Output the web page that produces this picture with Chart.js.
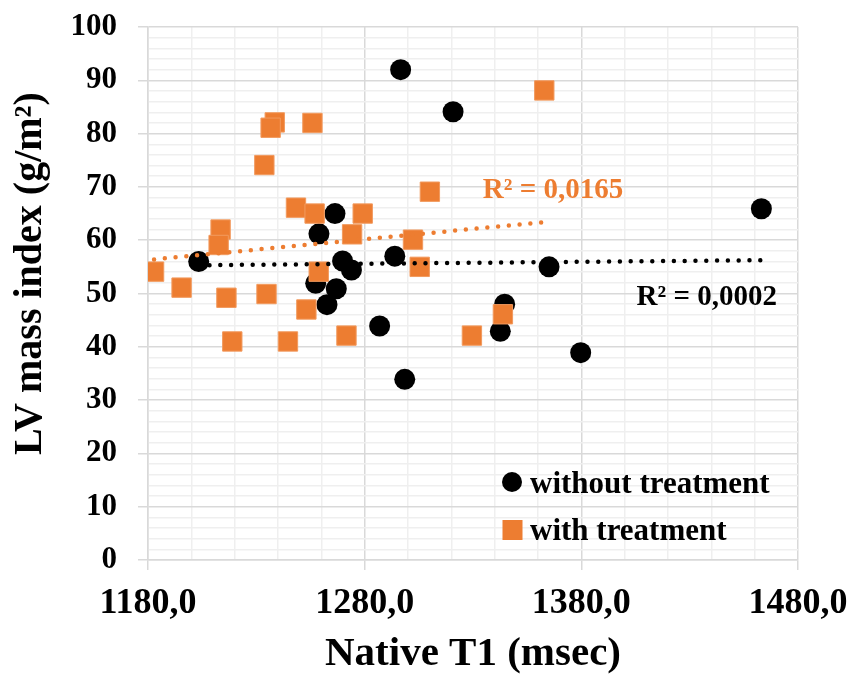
<!DOCTYPE html>
<html>
<head>
<meta charset="utf-8">
<script src="https://cdn.jsdelivr.net/npm/chart.js@4"></script>
<style>
  body { margin: 0; background: #fff; }
  #wrap { width: 853px; height: 681px; }
</style>
</head>
<body>
<div id="wrap"><canvas id="t1Chart"></canvas></div>
<script>
// Native T1 (x) against LV mass index (y), two patient groups
const withoutX = [1203.4, 1296.6, 1320.8, 1266.3, 1258.9, 1293.9, 1269.8, 1273.9, 1257.4, 1266.9, 1262.6, 1286.9, 1298.5, 1344.6, 1342.6, 1379.7, 1365.1, 1463.1];
const withoutY = [56.0, 92.0, 84.1, 65.0, 61.2, 57.0, 56.1, 54.4, 51.9, 50.9, 47.9, 43.9, 33.9, 48.0, 42.9, 38.9, 55.0, 65.9];

const withX = [1182.8, 1195.5, 1213.5, 1212.6, 1216.2, 1238.5, 1236.6, 1233.7, 1255.9, 1248.3, 1256.9, 1279.1, 1274.2, 1310.1, 1302.3, 1305.4, 1258.8, 1234.7, 1253.1, 1218.9, 1244.6, 1271.6, 1329.5, 1343.8, 1362.9];
const withY = [54.1, 51.1, 62.0, 59.1, 49.2, 82.1, 81.1, 74.1, 82.0, 66.1, 65.0, 65.0, 61.1, 69.1, 60.1, 55.0, 54.1, 49.9, 47.0, 41.0, 41.0, 42.1, 42.1, 46.1, 88.1];

// linear trendlines (start / end)
const withoutTrendX = [1203.4, 1463.1];
const withoutTrendY = [55.3, 56.25];
const withTrendX = [1182.8, 1362.9];
const withTrendY = [56.4, 63.4];

const withoutR2 = '0,0002';
const withR2 = '0,0165';

const xTicks = [1180, 1280, 1380, 1480];
const yTicks = [0, 10, 20, 30, 40, 50, 60, 70, 80, 90, 100];

const orange = '#ED7D31';
const serif = "'Liberation Serif', 'Times New Roman', serif";
const majorGrid = '#d9d9d9';
const minorGrid = '#efefef';

const toPoints = (xs, ys) => xs.map((x, i) => ({ x: x, y: ys[i] }));

const isMajorX = v => xTicks.includes(Math.round(v));
const isMajorY = v => yTicks.includes(Math.round(v));

// legend, R² labels and the y title drawn on top of the plot
const annotations = {
   id: 'annotations',
   afterDraw(chart) {
      const { ctx, chartArea, scales: { x, y } } = chart;
      ctx.save();
      ctx.textBaseline = 'alphabetic';
      ctx.textAlign = 'left';

      ctx.font = `bold 29px ${serif}`;
      ctx.fillStyle = orange;
      ctx.fillText('R² = ' + withR2, x.getPixelForValue(1334.5), y.getPixelForValue(67.9));
      ctx.fillStyle = '#000';
      ctx.fillText('R² = ' + withoutR2, x.getPixelForValue(1405.5), y.getPixelForValue(47.8));

      const lx = chartArea.right - 286;
      const tx = chartArea.right - 268;
      ctx.font = `bold 31px ${serif}`;

      ctx.fillStyle = '#000';
      ctx.beginPath();
      ctx.arc(lx, chartArea.bottom - 78, 10, 0, Math.PI * 2);
      ctx.fill();
      ctx.fillText('without treatment', tx, chartArea.bottom - 67);

      ctx.fillStyle = orange;
      ctx.fillRect(lx - 9.5, chartArea.bottom - 40, 20, 20);
      ctx.fillStyle = '#000';
      ctx.fillText('with treatment', tx, chartArea.bottom - 20);

      // y axis title, a little above the middle of the plot
      ctx.translate(31, (chartArea.top + chartArea.bottom) / 2 - 20);
      ctx.rotate(-Math.PI / 2);
      ctx.textAlign = 'center';
      ctx.textBaseline = 'middle';
      ctx.font = `bold 40px ${serif}`;
      ctx.fillText('LV mass index (g/m²)', 0, 0);
      ctx.restore();
   }
};

const ctx = document.getElementById('t1Chart').getContext('2d');

new Chart(ctx, {
   type: 'scatter',
   data: {
      datasets: [{
         label: 'trend without',
         data: toPoints(withoutTrendX, withoutTrendY),
         showLine: true,
         borderColor: '#000',
         borderWidth: 4.5,
         borderDash: [0, 10.8],
         borderCapStyle: 'round',
         pointRadius: 0,
         order: 0
      }, {
         label: 'trend with',
         data: toPoints(withTrendX, withTrendY),
         showLine: true,
         borderColor: orange,
         borderWidth: 4.5,
         borderDash: [0, 10.8],
         borderCapStyle: 'round',
         pointRadius: 0,
         order: 0
      }, {
         label: 'with treatment',
         data: toPoints(withX, withY),
         pointStyle: 'rect',
         pointRadius: 13.7,
         backgroundColor: orange,
         borderColor: '#f29a5e',
         borderWidth: 1,
         order: 1
      }, {
         label: 'without treatment',
         data: toPoints(withoutX, withoutY),
         pointStyle: 'circle',
         pointRadius: 10.5,
         backgroundColor: '#000',
         borderColor: '#000',
         borderWidth: 0,
         order: 2
      }]
   },
   options: {
      responsive: true,
      maintainAspectRatio: false,
      animation: false,
      layout: { padding: { top: 27, right: 55, left: 0, bottom: 0 } },
      scales: {
         x: {
            type: 'linear',
            min: 1180,
            max: 1480,
            afterFit: scale => {
               scale.height = 121;
               scale.paddingLeft = 0;
               scale.paddingRight = 0;
            },
            border: { color: majorGrid, width: 1.5 },
            grid: {
               color: c => isMajorX(c.tick.value) ? majorGrid : minorGrid,
               lineWidth: 1.5,
               tickColor: c => isMajorX(c.tick.value) ? majorGrid : 'rgba(0,0,0,0)',
               tickLength: 10
            },
            ticks: {
               stepSize: 20,
               autoSkip: false,
               maxRotation: 0,
               padding: 12,
               color: '#000',
               font: { family: serif, size: 36, weight: 'bold' },
               callback: v => isMajorX(v) ? Math.round(v).toFixed(1).replace('.', ',') : ''
            },
            title: {
               display: true,
               text: 'Native T1 (msec)',
               color: '#000',
               font: { family: serif, size: 41, weight: 'bold' },
               padding: { top: 0, bottom: 2 }
            }
         },
         y: {
            min: 0,
            max: 100,
            afterFit: scale => {
               scale.width = 148;
               scale.paddingTop = 0;
               scale.paddingBottom = 0;
            },
            border: { color: majorGrid, width: 1.5 },
            grid: {
               color: c => isMajorY(c.tick.value) ? majorGrid : minorGrid,
               lineWidth: 1.5,
               tickColor: c => isMajorY(c.tick.value) ? majorGrid : 'rgba(0,0,0,0)',
               tickLength: 10
            },
            ticks: {
               stepSize: 2,
               autoSkip: false,
               padding: 21,
               color: '#000',
               font: { family: serif, size: 31, weight: 'bold' },
               callback: v => isMajorY(v) ? Math.round(v) : ''
            }
         }
      },
      plugins: {
         legend: { display: false },
         tooltip: { enabled: false }
      }
   },
   plugins: [annotations]
});
</script>
</body>
</html>
